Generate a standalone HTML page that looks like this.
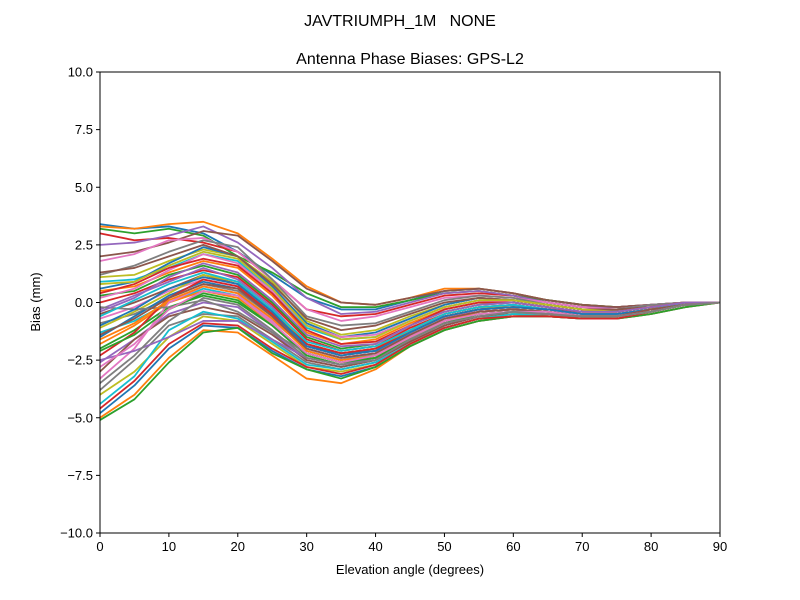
<!DOCTYPE html>
<html><head><meta charset="utf-8"><style>body{margin:0;background:#fff}svg{display:block}text{font-family:"Liberation Sans","DejaVu Sans",sans-serif}</style></head>
<body>
<svg id="chart" width="800" height="600" viewBox="0 0 800 600">
<text x="400" y="26" font-size="16" text-anchor="middle" xml:space="preserve">JAVTRIUMPH_1M   NONE</text>
<text x="410" y="64" font-size="16" text-anchor="middle">Antenna Phase Biases: GPS-L2</text>
<g id="lines"></g>
<g id="axes"></g>
<text x="410" y="574" font-size="13" text-anchor="middle">Elevation angle (degrees)</text>
<text x="0" y="0" font-size="13" text-anchor="middle" transform="translate(40,302) rotate(-90)">Bias (mm)</text>
</svg>
<script>
const elevations=[0,5,10,15,20,25,30,35,40,45,50,55,60,65,70,75,80,85,90];
const xTicks=[0,10,20,30,40,50,60,70,80,90];
const yTicks=[-10,-7.5,-5,-2.5,0,2.5,5,7.5,10];
const yTickLabels=["\u221210.0","\u22127.5","\u22125.0","\u22122.5","0.0","2.5","5.0","7.5","10.0"];
const series=[
[3.4,3.2,3.3,3.0,2.2,1.2,0.2,-0.3,-0.3,0.1,0.5,0.6,0.4,0.1,-0.1,-0.2,-0.1,0,0],
[3.3,3.2,3.4,3.5,3.0,1.9,0.7,0.0,-0.1,0.2,0.6,0.6,0.4,0.1,-0.1,-0.2,-0.1,0,0],
[3.2,3.0,3.2,2.9,2.0,1.3,0.4,-0.2,-0.2,0.1,0.4,0.5,0.3,0.1,-0.1,-0.2,-0.1,0,0],
[3.0,2.7,2.8,2.6,2.2,1.0,-0.3,-0.6,-0.5,-0.1,0.3,0.4,0.3,0.0,-0.2,-0.2,-0.1,0,0],
[2.5,2.6,2.9,3.3,2.6,1.5,0.2,-0.5,-0.4,0.0,0.4,0.5,0.3,0.0,-0.2,-0.2,-0.1,0,0],
[2.0,2.2,2.6,3.1,2.9,1.8,0.6,0.0,-0.1,0.2,0.5,0.6,0.4,0.1,-0.1,-0.2,-0.1,0,0],
[1.8,2.1,2.7,2.8,2.2,1.0,-0.3,-0.8,-0.6,-0.2,0.2,0.3,0.2,0.0,-0.2,-0.3,-0.1,0,0],
[1.2,1.6,2.2,2.7,2.4,1.0,-0.6,-1.0,-0.9,-0.4,0.1,0.3,0.2,-0.1,-0.3,-0.3,-0.1,0,0],
[1.1,1.2,1.8,2.3,2.0,0.9,-0.8,-1.4,-1.2,-0.6,-0.1,0.2,0.1,-0.1,-0.3,-0.3,-0.2,0,0],
[0.9,1.0,1.5,2.1,1.8,0.5,-1.1,-1.6,-1.5,-0.8,-0.2,0.1,0.1,-0.1,-0.3,-0.4,-0.2,0,0],
[0.6,0.9,1.7,2.4,2.0,0.7,-0.9,-1.5,-1.3,-0.7,-0.1,0.2,0.1,-0.1,-0.3,-0.3,-0.2,0,0],
[0.5,0.7,1.3,1.8,1.5,0.3,-1.3,-1.8,-1.6,-0.9,-0.3,0.0,0.0,-0.2,-0.4,-0.4,-0.2,0,0],
[0.3,0.5,1.2,1.6,1.2,0.0,-1.5,-2.0,-1.8,-1.0,-0.4,-0.1,0.0,-0.2,-0.4,-0.4,-0.2,0,0],
[0.0,0.4,1.0,1.4,1.1,-0.1,-1.6,-2.1,-1.9,-1.1,-0.5,-0.2,-0.1,-0.3,-0.4,-0.4,-0.2,0,0],
[-0.3,0.3,0.9,1.5,1.0,-0.2,-1.8,-2.2,-2.0,-1.2,-0.5,-0.2,-0.1,-0.3,-0.5,-0.5,-0.3,0,0],
[-0.5,0.0,0.6,1.2,0.8,-0.4,-1.9,-2.3,-2.1,-1.3,-0.6,-0.3,-0.2,-0.3,-0.5,-0.5,-0.3,-0.1,0],
[-0.7,-0.2,0.5,1.0,0.7,-0.5,-2.0,-2.4,-2.2,-1.4,-0.7,-0.3,-0.2,-0.3,-0.5,-0.5,-0.3,-0.1,0],
[-0.9,-0.5,0.2,0.8,0.5,-0.6,-2.1,-2.5,-2.2,-1.4,-0.7,-0.4,-0.3,-0.4,-0.6,-0.5,-0.3,-0.1,0],
[-1.1,-0.4,0.4,1.2,0.9,-0.3,-1.8,-2.2,-2.0,-1.2,-0.5,-0.2,-0.2,-0.3,-0.5,-0.5,-0.3,0,0],
[-1.3,-0.8,0.0,0.6,0.3,-0.8,-2.0,-2.4,-2.3,-1.5,-0.8,-0.4,-0.3,-0.4,-0.6,-0.6,-0.3,-0.1,0],
[-1.5,-0.6,0.3,0.9,0.6,-0.5,-1.9,-2.2,-2.1,-1.3,-0.6,-0.3,-0.2,-0.3,-0.5,-0.5,-0.3,0,0],
[-1.8,-1.0,0.0,0.5,0.2,-0.9,-2.2,-2.6,-2.4,-1.6,-0.9,-0.5,-0.4,-0.4,-0.6,-0.6,-0.4,-0.1,0],
[-2.0,-1.2,-0.2,0.3,0.0,-1.0,-2.3,-2.7,-2.4,-1.6,-0.9,-0.5,-0.4,-0.5,-0.6,-0.6,-0.4,-0.1,0],
[-2.3,-1.3,0.2,1.0,0.7,-0.5,-1.8,-2.2,-2.0,-1.3,-0.6,-0.3,-0.2,-0.3,-0.5,-0.5,-0.3,0,0],
[-2.6,-1.6,-0.5,0.0,-0.2,-1.3,-2.5,-2.8,-2.5,-1.7,-1.0,-0.6,-0.5,-0.5,-0.6,-0.6,-0.4,-0.1,0],
[-3.0,-1.6,-0.6,-0.2,-0.5,-1.4,-2.5,-2.8,-2.5,-1.7,-1.0,-0.6,-0.5,-0.5,-0.7,-0.6,-0.4,-0.1,0],
[-3.3,-2.0,0.0,0.7,0.4,-0.8,-2.0,-2.4,-2.2,-1.4,-0.7,-0.4,-0.3,-0.4,-0.5,-0.5,-0.3,0,0],
[-3.8,-2.5,-1.0,-0.5,-0.6,-1.6,-2.6,-2.9,-2.6,-1.8,-1.1,-0.7,-0.5,-0.5,-0.7,-0.6,-0.4,-0.1,0],
[-4.0,-3.0,-1.5,-0.6,-0.8,-1.8,-2.8,-3.0,-2.7,-1.8,-1.1,-0.7,-0.5,-0.6,-0.7,-0.6,-0.4,-0.1,0],
[-4.4,-3.2,-1.2,-0.4,-0.7,-1.7,-2.7,-2.9,-2.6,-1.8,-1.1,-0.7,-0.5,-0.6,-0.7,-0.6,-0.4,-0.1,0],
[-4.8,-3.6,-2.0,-1.0,-1.1,-2.1,-2.9,-3.2,-2.8,-1.9,-1.2,-0.8,-0.6,-0.6,-0.7,-0.7,-0.5,-0.2,0],
[-5.0,-4.0,-2.4,-1.2,-1.3,-2.3,-3.3,-3.5,-2.9,-1.9,-1.2,-0.8,-0.6,-0.6,-0.7,-0.7,-0.5,-0.2,0],
[-5.1,-4.2,-2.6,-1.3,-1.1,-2.2,-2.9,-3.3,-2.8,-1.9,-1.2,-0.8,-0.6,-0.6,-0.7,-0.7,-0.5,-0.2,0],
[-4.6,-3.4,-1.8,-0.9,-1.0,-2.0,-2.8,-3.1,-2.7,-1.8,-1.1,-0.7,-0.6,-0.6,-0.7,-0.7,-0.4,-0.1,0],
[-2.5,-2.1,-1.5,-0.8,-0.8,-1.6,-2.4,-2.7,-2.4,-1.6,-0.9,-0.5,-0.4,-0.5,-0.6,-0.6,-0.4,-0.1,0],
[1.3,1.5,2.0,2.5,2.0,0.8,-0.7,-1.2,-1.0,-0.5,0.0,0.2,0.1,-0.1,-0.3,-0.3,-0.2,0,0],
[0.2,0.6,1.4,2.1,1.7,0.5,-1.0,-1.5,-1.4,-0.8,-0.2,0.1,0.0,-0.2,-0.4,-0.4,-0.2,0,0],
[-0.2,-0.3,-0.2,0.1,-0.4,-1.3,-2.2,-2.6,-2.3,-1.5,-0.8,-0.4,-0.3,-0.4,-0.6,-0.6,-0.3,-0.1,0],
[0.8,0.9,1.6,2.2,1.9,0.6,-1.0,-1.6,-1.5,-0.8,-0.2,0.1,0.1,-0.1,-0.3,-0.4,-0.2,0,0],
[-0.6,0.1,0.8,1.3,0.9,-0.3,-1.7,-2.1,-1.9,-1.2,-0.5,-0.2,-0.1,-0.3,-0.5,-0.5,-0.3,0,0],
[-1.0,-0.3,0.6,1.1,0.8,-0.4,-1.9,-2.3,-2.1,-1.3,-0.6,-0.3,-0.2,-0.3,-0.5,-0.5,-0.3,-0.1,0],
[-1.6,-0.9,0.1,0.7,0.4,-0.7,-2.1,-2.5,-2.3,-1.5,-0.8,-0.4,-0.3,-0.4,-0.6,-0.6,-0.3,-0.1,0],
[-2.1,-1.4,-0.3,0.4,0.1,-1.0,-2.2,-2.6,-2.4,-1.6,-0.9,-0.5,-0.4,-0.4,-0.6,-0.6,-0.4,-0.1,0],
[0.4,0.8,1.5,1.9,1.6,0.4,-1.2,-1.8,-1.7,-1.0,-0.3,0.0,0.0,-0.2,-0.4,-0.4,-0.2,0,0],
[-0.4,0.2,1.1,1.7,1.3,0.1,-1.4,-1.9,-1.8,-1.0,-0.4,-0.1,0.0,-0.2,-0.4,-0.4,-0.2,0,0],
[-1.4,-0.7,0.2,0.8,0.6,-0.6,-2.0,-2.4,-2.2,-1.4,-0.7,-0.4,-0.3,-0.4,-0.6,-0.6,-0.3,-0.1,0],
[-2.8,-1.8,-0.3,0.5,0.3,-0.9,-2.2,-2.6,-2.3,-1.5,-0.8,-0.5,-0.4,-0.4,-0.6,-0.6,-0.4,-0.1,0],
[-3.5,-2.3,-0.8,0.2,-0.1,-1.2,-2.4,-2.7,-2.5,-1.6,-0.9,-0.6,-0.4,-0.5,-0.6,-0.6,-0.4,-0.1,0]
];
const colors=["#1f77b4","#ff7f0e","#2ca02c","#d62728","#9467bd","#8c564b","#e377c2","#7f7f7f","#bcbd22","#17becf"];
const L=100,R=720,T=72,B=533;
const xs=v=>L+(v-0)/(90-0)*(R-L);
const ys=v=>B-(v+10)/20*(B-T);
const NS="http://www.w3.org/2000/svg";
const lg=document.getElementById('lines');
series.forEach((s,i)=>{
  const p=document.createElementNS(NS,'polyline');
  p.setAttribute('points',s.map((v,j)=>xs(elevations[j])+','+ys(v)).join(' '));
  p.setAttribute('fill','none');p.setAttribute('stroke',colors[i%10]);p.setAttribute('stroke-width','1.8');
  p.setAttribute('stroke-linejoin','round');
  
  
  lg.appendChild(p);
});
const ax=document.getElementById('axes');
let h='<rect x="'+L+'" y="'+T+'" width="'+(R-L)+'" height="'+(B-T)+'" fill="none" stroke="#000" stroke-width="1"/>';
xTicks.forEach(t=>{const x=xs(t);h+='<line x1="'+x+'" x2="'+x+'" y1="'+B+'" y2="'+(B+4)+'" stroke="#000"/><text x="'+x+'" y="'+(B+18)+'" font-size="13" text-anchor="middle">'+t+'</text>';});
yTicks.forEach((t,i)=>{const y=ys(t);h+='<line x1="'+(L-4)+'" x2="'+L+'" y1="'+y+'" y2="'+y+'" stroke="#000"/><text x="'+(L-7)+'" y="'+(y+4.5)+'" font-size="13" text-anchor="end">'+yTickLabels[i]+'</text>';});
ax.innerHTML=h;
</script>
</body></html>
